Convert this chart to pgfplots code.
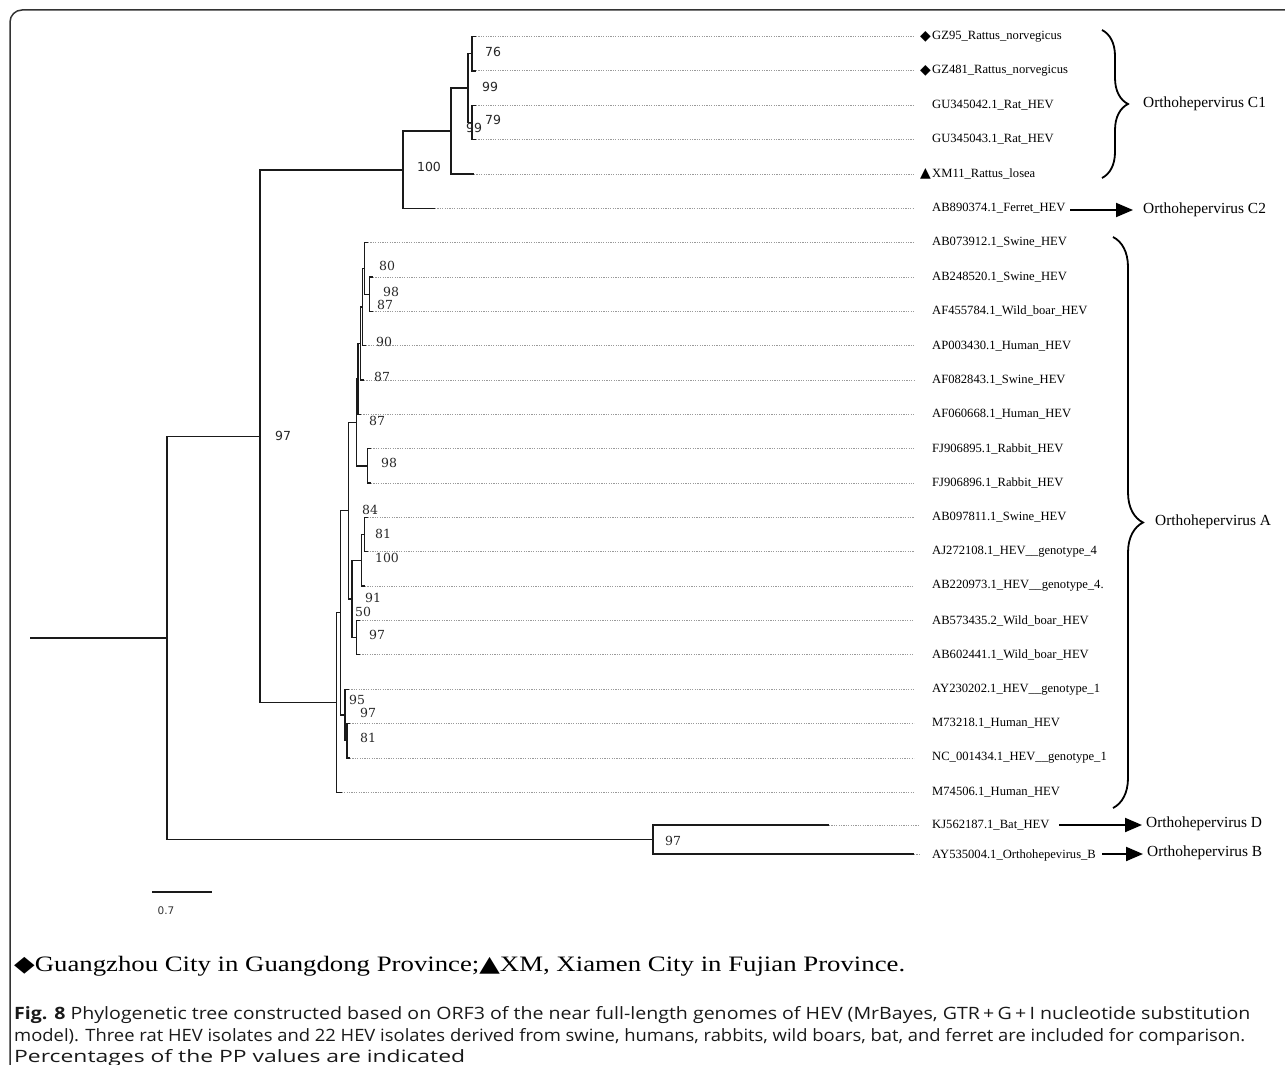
\documentclass[border=0pt]{standalone}
\usepackage{pgfplots}
\pgfplotsset{compat=1.18}
\usepackage{fontspec}
\usepackage{graphicx}
\usetikzlibrary{arrows.meta,decorations.pathreplacing}
\setmainfont{Liberation Serif}
\newfontfamily\dvs{DejaVu Sans}
\newfontfamily\dvserif{DejaVu Serif}
\newfontfamily\osans{Open Sans}
\definecolor{branch}{HTML}{1A1A1A}
\definecolor{leader}{HTML}{9A9A9A}
\definecolor{frame}{HTML}{333333}
\tikzset{
  leaf/.style={anchor=west, inner sep=0pt, font=\fontsize{12.6}{14}\selectfont},
  clade/.style={anchor=west, inner sep=0pt, font=\fontsize{15.4}{17}\selectfont},
  num/.style={inner sep=0pt, text=black!85, font=\dvserif\fontsize{12.5}{14}\selectfont},
  snum/.style={inner sep=0pt, text=black!85, font=\dvs\fontsize{12.5}{14}\selectfont}}
\newcommand\capfont{\osans\fontsize{17}{19}\selectfont}
\begin{document}
\begin{tikzpicture}
\begin{axis}[scale only axis, width=1285pt, height=1065pt,
  xmin=0, xmax=1285, ymin=0, ymax=1065, y dir=reverse,
  hide axis, clip=false, unbounded coords=jump,
  anchor=south west, at={(0,0)}]

% ---- solid branches (x, y in picture units) ----
\addplot[branch, line width=1.3pt, no marks] coordinates {
(30,637.9) (167,637.9) (nan,nan)
(260,436.3) (167,436.3) (167,839.5) (653,839.5) (nan,nan)
(829,825) (653,825) (653,854) (914,854) (nan,nan)
(403,170) (260,170) (260,702.5) (336.7,702.5) (nan,nan)
(435,208.3) (403,208.3) (403,131) (451,131) (nan,nan)
(474,173.9) (451,173.9) (451,88) (468,88) (nan,nan)
(472,53.7) (468,53.7) (468,122.4) (472,122.4) (nan,nan)
(476,36.5) (472,36.5) (472,70.9) (476,70.9) (nan,nan)
(476,105.2) (472,105.2) (472,139.6) (476,139.6) (nan,nan)
(341.7,792.2) (336.7,792.2) (336.7,612.8) (340.7,612.8) (nan,nan)
(348.3,510.7) (340.7,510.7) (340.7,714.95) (345,714.95) (nan,nan)
(349,689.2) (345,689.2) (345,740.7) (347,740.7) (nan,nan)
(350,723.5) (347,723.5) (347,757.9) (350,757.9) (nan,nan)
(356.7,422.4) (348.3,422.4) (348.3,599) (352,599) (nan,nan)
(361.7,560.35) (352,560.35) (352,637.65) (356.7,637.65) (nan,nan)
(360,620.5) (356.7,620.5) (356.7,654.8) (360,654.8) (nan,nan)
(364.3,534.6) (361.7,534.6) (361.7,586.1) (365,586.1) (nan,nan)
(367.5,517.4) (364.3,517.4) (364.3,551.8) (367.5,551.8) (nan,nan)
(358,378.95) (356.7,378.95) (356.7,465.9) (367.7,465.9) (nan,nan)
(371,448.7) (367.7,448.7) (367.7,483.1) (371,483.1) (nan,nan)
(360.7,343.5) (358,343.5) (358,414.4) (361,414.4) (nan,nan)
(362.7,307.05) (360.7,307.05) (360.7,380) (364,380) (nan,nan)
(364.3,268.4) (362.7,268.4) (362.7,345.7) (366,345.7) (nan,nan)
(368,242.6) (364.3,242.6) (364.3,294.15) (369.3,294.15) (nan,nan)
(373,277) (369.3,277) (369.3,311.3) (373,311.3)
};

% ---- dotted leaders ----
\addplot[leader, line width=0.8pt, dash pattern=on 1.2pt off 1.2pt, no marks] coordinates {
(476,36.5) (914,36.5) (nan,nan)
(476,70.9) (914,70.9) (nan,nan)
(476,105.2) (914,105.2) (nan,nan)
(476,139.6) (914,139.6) (nan,nan)
(474,173.9) (914,173.9) (nan,nan)
(435,208.3) (914,208.3) (nan,nan)
(368,242.6) (914,242.6) (nan,nan)
(373,277) (914,277) (nan,nan)
(373,311.3) (914,311.3) (nan,nan)
(366,345.7) (914,345.7) (nan,nan)
(364,380) (914,380) (nan,nan)
(361,414.4) (914,414.4) (nan,nan)
(371,448.7) (914,448.7) (nan,nan)
(371,483.1) (914,483.1) (nan,nan)
(367.5,517.4) (914,517.4) (nan,nan)
(367.5,551.8) (914,551.8) (nan,nan)
(365,586.1) (914,586.1) (nan,nan)
(360,620.5) (914,620.5) (nan,nan)
(360,654.8) (914,654.8) (nan,nan)
(349,689.2) (914,689.2) (nan,nan)
(350,723.5) (914,723.5) (nan,nan)
(350,757.9) (914,757.9) (nan,nan)
(341.7,792.2) (914,792.2) (nan,nan)
(829,825) (918,825) (nan,nan)
(914,854) (920,854)
};

% ---- scale bar ----
\addplot[branch, line width=1.2pt, no marks] coordinates {(152,892) (212,892)};
\node[inner sep=0pt, font=\dvs\fontsize{10.5}{12}\selectfont, text=black!80] at (axis cs:166,911) {0.7};

% ---- leaf labels ----
\node[anchor=east, inner sep=0pt, font=\dvs\fontsize{14}{16}\selectfont] at (axis cs:931,36.5) {◆};
\node[anchor=east, inner sep=0pt, font=\dvs\fontsize{14}{16}\selectfont] at (axis cs:931,70.9) {◆};
\node[anchor=east, inner sep=0pt, font=\dvs\fontsize{14}{16}\selectfont] at (axis cs:931,173.9) {▲};
\node[leaf] at (axis cs:932,36.5) {GZ95\_Rattus\_norvegicus};
\node[leaf] at (axis cs:932,70.9) {GZ481\_Rattus\_norvegicus};
\node[leaf] at (axis cs:932,105.2) {GU345042.1\_Rat\_HEV};
\node[leaf] at (axis cs:932,139.6) {GU345043.1\_Rat\_HEV};
\node[leaf] at (axis cs:932,173.9) {XM11\_Rattus\_losea};
\node[leaf] at (axis cs:932,208.3) {AB890374.1\_Ferret\_HEV};
\node[leaf] at (axis cs:932,242.6) {AB073912.1\_Swine\_HEV};
\node[leaf] at (axis cs:932,277) {AB248520.1\_Swine\_HEV};
\node[leaf] at (axis cs:932,311.3) {AF455784.1\_Wild\_boar\_HEV};
\node[leaf] at (axis cs:932,345.7) {AP003430.1\_Human\_HEV};
\node[leaf] at (axis cs:932,380) {AF082843.1\_Swine\_HEV};
\node[leaf] at (axis cs:932,414.4) {AF060668.1\_Human\_HEV};
\node[leaf] at (axis cs:932,448.7) {FJ906895.1\_Rabbit\_HEV};
\node[leaf] at (axis cs:932,483.1) {FJ906896.1\_Rabbit\_HEV};
\node[leaf] at (axis cs:932,517.4) {AB097811.1\_Swine\_HEV};
\node[leaf] at (axis cs:932,551.8) {AJ272108.1\_HEV\_\_genotype\_4};
\node[leaf] at (axis cs:932,586.1) {AB220973.1\_HEV\_\_genotype\_4.};
\node[leaf] at (axis cs:932,620.5) {AB573435.2\_Wild\_boar\_HEV};
\node[leaf] at (axis cs:932,654.8) {AB602441.1\_Wild\_boar\_HEV};
\node[leaf] at (axis cs:932,689.2) {AY230202.1\_HEV\_\_genotype\_1};
\node[leaf] at (axis cs:932,723.5) {M73218.1\_Human\_HEV};
\node[leaf] at (axis cs:932,757.9) {NC\_001434.1\_HEV\_\_genotype\_1};
\node[leaf] at (axis cs:932,792.2) {M74506.1\_Human\_HEV};
\node[leaf] at (axis cs:932,825) {KJ562187.1\_Bat\_HEV};
\node[leaf] at (axis cs:932,855) {AY535004.1\_Orthohepevirus\_B};

% ---- support values ----
\node[snum] at (axis cs:493,52) {76};
\node[snum] at (axis cs:490,87) {99};
\node[snum] at (axis cs:493,120) {79};
\node[snum] at (axis cs:474,128) {99};
\node[snum] at (axis cs:429,167) {100};
\node[snum] at (axis cs:283,436) {97};
\node[num] at (axis cs:387,266) {80};
\node[num] at (axis cs:391,292) {98};
\node[num] at (axis cs:385,305) {87};
\node[num] at (axis cs:384,342) {90};
\node[num] at (axis cs:382,377) {87};
\node[num] at (axis cs:377,421) {87};
\node[num] at (axis cs:389,463) {98};
\node[num] at (axis cs:370,510) {84};
\node[num] at (axis cs:383,534) {81};
\node[num] at (axis cs:387,558) {100};
\node[num] at (axis cs:373,598) {91};
\node[num] at (axis cs:363,612) {50};
\node[num] at (axis cs:377,635) {97};
\node[num] at (axis cs:357,700) {95};
\node[num] at (axis cs:368,713) {97};
\node[num] at (axis cs:368,738) {81};
\node[num] at (axis cs:673,841) {97};

% ---- braces and arrows ----
\draw[line width=1.8pt, decorate, decoration={brace, amplitude=26pt}] (axis cs:1102,30) -- (axis cs:1102,178);
\draw[line width=1.8pt, decorate, decoration={brace, amplitude=30pt}] (axis cs:1113,237) -- (axis cs:1113,808);
\draw[line width=2pt, -{Triangle[length=17pt,width=14pt]}] (axis cs:1070,210) -- (axis cs:1133,210);
\draw[line width=2pt, -{Triangle[length=17pt,width=14pt]}] (axis cs:1059,825) -- (axis cs:1142,825);
\draw[line width=2pt, -{Triangle[length=17pt,width=14pt]}] (axis cs:1102,854) -- (axis cs:1143,854);
\node[clade] at (axis cs:1143,104) {Orthohepervirus C1};
\node[clade] at (axis cs:1143,210) {Orthohepervirus C2};
\node[clade] at (axis cs:1155,522) {Orthohepervirus A};
\node[clade] at (axis cs:1146,824) {Orthohepervirus D};
\node[clade] at (axis cs:1147,853) {Orthohepervirus B};

% ---- legend line and caption ----
\node[anchor=west, inner sep=0pt] at (axis cs:14,966) {\resizebox{891pt}{\height}{\fontsize{22}{26}\selectfont{\dvs ◆}Guangzhou City in Guangdong Province;{\dvs ▲}XM, Xiamen City in Fujian Province.}};
\node[anchor=west, inner sep=0pt, text=black!90] at (axis cs:14,1015) {\resizebox{1236pt}{\height}{\capfont\textbf{Fig. 8} Phylogenetic tree constructed based on ORF3 of the near full-length genomes of HEV (MrBayes, GTR\,+\,G\,+\,I nucleotide substitution}};
\node[anchor=west, inner sep=0pt, text=black!90] at (axis cs:14,1037) {\resizebox{1231pt}{\height}{\capfont model). Three rat HEV isolates and 22 HEV isolates derived from swine, humans, rabbits, wild boars, bat, and ferret are included for comparison.}};
\node[anchor=west, inner sep=0pt, text=black!90] at (axis cs:14,1058) {\resizebox{451pt}{\height}{\capfont Percentages of the PP values are indicated}};

% ---- frame ----
\draw[frame, line width=1.5pt, rounded corners=12pt] (axis cs:10,1065) -- (axis cs:10,10) -- (axis cs:1285,10);
\end{axis}
\pgfresetboundingbox
\useasboundingbox (0,0) rectangle (1285pt,1065pt);
\end{tikzpicture}
\end{document}
